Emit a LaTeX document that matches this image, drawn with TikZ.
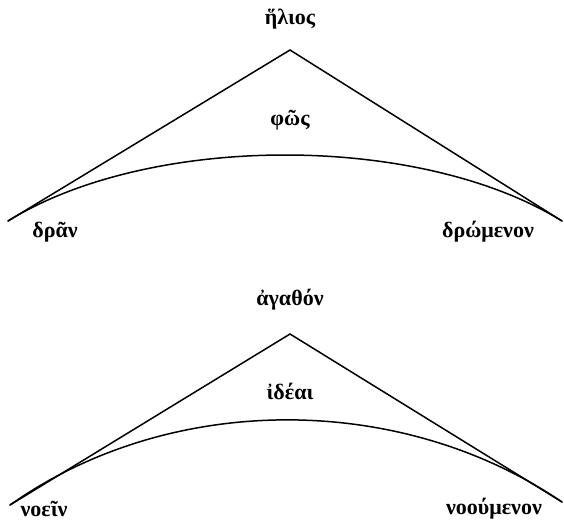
\documentclass[tikz,border=0pt]{standalone}
\usepackage{fontspec}
\setmainfont{Liberation Serif}
\tikzset{
  edge/.style={line width=1.5pt, line join=miter, line cap=round},
  word/.style={font=\bfseries\fontsize{22}{26}\selectfont, inner sep=0pt}
}
\begin{document}
\begin{tikzpicture}[x=1pt, y=-1pt]
  \useasboundingbox (0,0) rectangle (564,522);
  % upper figure: the sun
  \coordinate (sA) at (290,50);
  \coordinate (sL) at (8,221);
  \coordinate (sR) at (562,221);
  \draw[edge] (sL) -- (sA) -- (sR);
  \draw[edge] (sL) .. controls (150,133) and (420,133) .. (sR);
  \node[word] (helios) at (290,19) {ἥλιος};
  \node[word] (phos) at (290,120) {φῶς};
  \node[word] (dran) at (55,232) {δρᾶν};
  \node[word] (dromenon) at (488,232) {δρώμενον};
  % lower figure: the good
  \coordinate (gA) at (290,334);
  \coordinate (gL) at (10,505);
  \coordinate (gR) at (562,502);
  \draw[edge] (gL) -- (gA) -- (gR);
  \draw[edge] (gL) .. controls (170,392) and (400,392) .. (gR);
  \node[word] (agathon) at (290,300) {ἀγαθόν};
  \node[word] (ideai) at (290,391) {ἰδέαι};
  \node[word] (noein) at (44,509) {νοεῖν};
  \node[word] (nooumenon) at (494,509) {νοούμενον};
\end{tikzpicture}
\end{document}
